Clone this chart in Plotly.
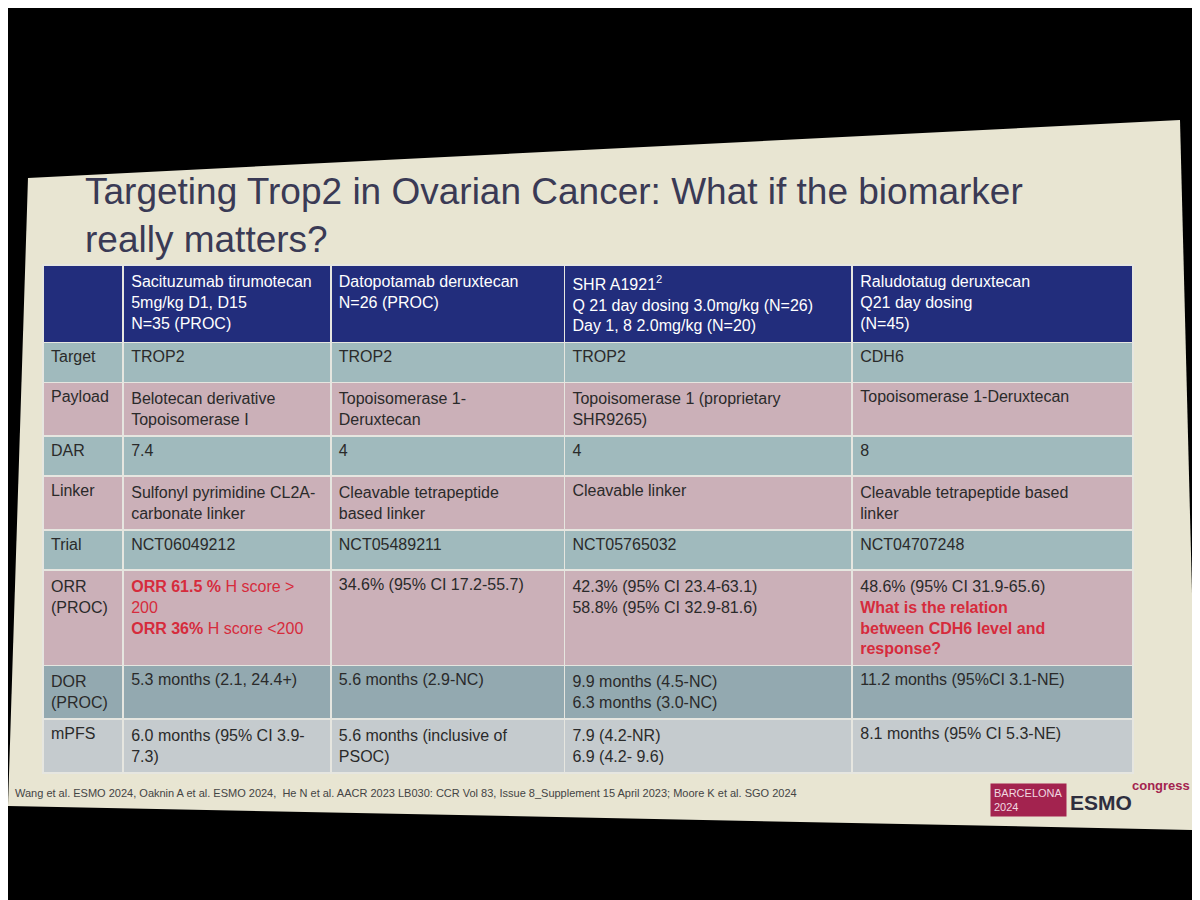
import plotly.graph_objects as go

# slide text
title = "Targeting Trop2 in Ovarian Cancer: What if the biomarker<br>really matters?"
footnote = ("Wang et al. ESMO 2024, Oaknin A et al. ESMO 2024,  He N et al. AACR 2023 LB030: "
            "CCR Vol 83, Issue 8_Supplement 15 April 2023; Moore K et al. SGO 2024")

RED = "#d62b3c"

def red(s):
    return f"<span style='color:{RED}'><b>{s}</b></span>"

headers = [
    " ",
    "Sacituzumab tirumotecan<br>5mg/kg D1, D15<br>N=35 (PROC)",
    "Datopotamab deruxtecan<br>N=26 (PROC)",
    "SHR A1921<sup>2</sup><br>Q 21 day dosing 3.0mg/kg (N=26)<br>Day 1, 8 2.0mg/kg (N=20)",
    "Raludotatug deruxtecan<br>Q21 day dosing<br>(N=45)",
]

row_labels = ["Target", "Payload", "DAR", "Linker", "Trial",
              "ORR<br>(PROC)", "DOR<br>(PROC)", "mPFS"]

sacituzumab = [
    "TROP2",
    "Belotecan derivative<br>Topoisomerase I",
    "7.4",
    "Sulfonyl pyrimidine CL2A-<br>carbonate linker",
    "NCT06049212",
    red("ORR 61.5 %") + f"<span style='color:{RED}'> H score &gt;<br>200</span><br>"
    + red("ORR 36%") + f"<span style='color:{RED}'> H score &lt;200</span>",
    "5.3 months (2.1, 24.4+)",
    "6.0 months (95% CI 3.9-<br>7.3)",
]

datopotamab = [
    "TROP2",
    "Topoisomerase 1-<br>Deruxtecan",
    "4",
    "Cleavable tetrapeptide<br>based linker",
    "NCT05489211",
    "34.6% (95% CI 17.2-55.7)",
    "5.6 months (2.9-NC)",
    "5.6 months (inclusive of<br>PSOC)",
]

shr_a1921 = [
    "TROP2",
    "Topoisomerase 1 (proprietary<br>SHR9265)",
    "4",
    "Cleavable linker",
    "NCT05765032",
    "42.3% (95% CI 23.4-63.1)<br>58.8% (95% CI 32.9-81.6)",
    "9.9 months (4.5-NC)<br>6.3 months (3.0-NC)",
    "7.9 (4.2-NR)<br>6.9 (4.2- 9.6)",
]

raludotatug = [
    "CDH6",
    "Topoisomerase 1-Deruxtecan",
    "8",
    "Cleavable tetrapeptide based<br>linker",
    "NCT04707248",
    "48.6% (95% CI 31.9-65.6)<br>" + red("What is the relation<br>between CDH6 level and<br>response?"),
    "11.2 months (95%CI 3.1-NE)",
    "8.1 months (95% CI 5.3-NE)",
]

# colours
NAVY = "#222d7c"
TEAL = "#a0babd"
PINK = "#cbb0b8"
TEAL_DARK = "#93a9b0"
GREY = "#c5cbce"
SLIDE = "#e8e5d2"
row_colors = [TEAL, PINK, TEAL, PINK, TEAL, PINK, TEAL_DARK, GREY]

FONT = "Liberation Sans, Arial, sans-serif"
W, H = 1200, 900


def px(x, y):
    return x / W, 1 - y / H


fig = go.Figure()

fig.add_trace(go.Table(
    domain=dict(x=[35 / W, 1125 / W], y=[1 - 772 / H, 1 - 257 / H]),
    columnwidth=[80, 207, 233, 287, 280],
    header=dict(
        values=headers,
        fill_color=NAVY,
        line=dict(color="#e6e6e0", width=1.5),
        align="left",
        font=dict(family=FONT, size=16, color="white"),
        height=30,
    ),
    cells=dict(
        values=[row_labels, sacituzumab, datopotamab, shr_a1921, raludotatug],
        fill_color=[row_colors] * 5,
        line=dict(color="#e6e6e0", width=1.5),
        align="left",
        font=dict(family=FONT, size=16, color="#2a2a2a"),
        height=40,
    ),
))

# slide as seen on the screen
x0, y0 = px(20, 170)
x1, y1 = px(1172, 112)
x2, y2 = px(1190, 822)
x3, y3 = px(0, 798)
fig.add_shape(type="path", xref="paper", yref="paper",
              path=f"M {x0},{y0} L {x1},{y1} L {x2},{y2} L {x3},{y3} Z",
              fillcolor=SLIDE, line=dict(width=0), layer="below")

fig.add_annotation(x=75 / W, y=1 - 208 / H, xref="paper", yref="paper",
                   text=title, showarrow=False, xanchor="left", yanchor="middle",
                   align="left",
                   font=dict(family=FONT, size=37, color="#3a3a55"))

fig.add_annotation(x=5 / W, y=1 - 785 / H, xref="paper", yref="paper",
                   text=footnote, showarrow=False, xanchor="left", yanchor="middle",
                   font=dict(family=FONT, size=11, color="#444444"))

# ESMO congress logo
fig.add_annotation(x=982 / W, y=1 - 792 / H, xref="paper", yref="paper",
                   text="BARCELONA<br>2024", showarrow=False, xanchor="left", yanchor="middle",
                   align="left", bgcolor="#a3234f", borderpad=3,
                   font=dict(family=FONT, size=11, color="#f0d8e0"))
fig.add_annotation(x=1060 / W, y=1 - 794 / H, xref="paper", yref="paper",
                   text="<b>ESMO</b>", showarrow=False, xanchor="left", yanchor="middle",
                   font=dict(family=FONT, size=21, color="#2e2e3e"))
fig.add_annotation(x=1122 / W, y=1 - 777 / H, xref="paper", yref="paper",
                   text="<b>congress</b>", showarrow=False, xanchor="left", yanchor="middle",
                   font=dict(family=FONT, size=13, color="#a3234f"))

fig.update_layout(
    width=W, height=H,
    paper_bgcolor="black", plot_bgcolor="black",
    margin=dict(l=0, r=0, t=0, b=0),
    showlegend=False,
)

fig.write_html("out.html")
